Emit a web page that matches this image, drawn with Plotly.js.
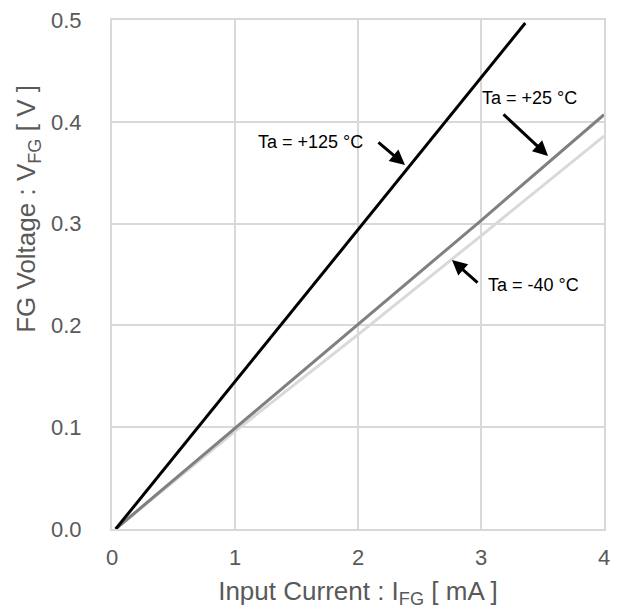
<!DOCTYPE html>
<html>
<head>
<meta charset="utf-8">
<script src="https://cdn.plot.ly/plotly-3.0.1.min.js"></script>
<style>html,body{margin:0;padding:0;background:#fff;}#chart{width:624px;height:609px;}</style>
</head>
<body>
<div id="chart"></div>
<script>
// Input current I_FG [mA]
const xT125 = [0.03, 1, 2, 3, 3.36];
const yT125 = [0.0, 0.145, 0.294, 0.443, 0.497];
const xT25 = [0.03, 1, 2, 3, 4];
const yT25 = [0.0, 0.099, 0.201, 0.303, 0.407];
const xTm40 = [0.03, 1, 2, 3, 4];
const yTm40 = [0.0, 0.096, 0.191, 0.288, 0.386];

const seriesNames = ['Ta = +125 °C', 'Ta = +25 °C', 'Ta = -40 °C'];
const seriesColors = ['#000000', '#808080', '#d9d9d9'];

// label positions [x, y] and arrow [tailX, tailY, headX, headY]
const labelPos = [[1.614, 0.380], [3.394, 0.4234], [3.423, 0.2397]];
const arrowPts = [[2.154, 0.381, 2.382, 0.3576], [3.171, 0.4086, 3.545, 0.3664], [2.984, 0.2407, 2.764, 0.2642]];

const xTicks = [0, 1, 2, 3, 4];
const yTicks = [0, 0.1, 0.2, 0.3, 0.4, 0.5];

const xTitle = 'Input Current : I<sub>FG</sub> [ mA ]';
const yTitle = 'FG Voltage : V<sub>FG</sub> [ V ]';

const traces = [
  {x: xTm40, y: yTm40, name: seriesNames[2], mode: 'lines', line: {color: seriesColors[2], width: 3}},
  {x: xT25, y: yT25, name: seriesNames[1], mode: 'lines', line: {color: seriesColors[1], width: 3}},
  {x: xT125, y: yT125, name: seriesNames[0], mode: 'lines', line: {color: seriesColors[0], width: 3}}
];

const gridColor = '#d9d9d9';
const tickFont = {family: 'Liberation Sans, Arial, sans-serif', size: 22, color: '#595959'};
const titleFont = {family: 'Liberation Sans, Arial, sans-serif', size: 26, color: '#595959'};

const annotations = [];
for (let i = 0; i < 3; i++) {
  annotations.push({
    x: labelPos[i][0], y: labelPos[i][1], xref: 'x', yref: 'y',
    text: seriesNames[i], showarrow: false,
    font: {family: 'Liberation Sans, Arial, sans-serif', size: 18, color: '#000'}
  });
  annotations.push({
    x: arrowPts[i][2], y: arrowPts[i][3], ax: arrowPts[i][0], ay: arrowPts[i][1],
    xref: 'x', yref: 'y', axref: 'x', ayref: 'y',
    text: '', showarrow: true, arrowhead: 2, arrowsize: 1, arrowwidth: 3, arrowcolor: '#000'
  });
}
// y-axis title (placed as in the reference, above the axis middle)
annotations.push({
  x: -0.1707, y: 0.629, xref: 'paper', yref: 'paper',
  xanchor: 'center', yanchor: 'middle', textangle: -90,
  text: yTitle, showarrow: false, font: titleFont
});

const layout = {
  width: 624, height: 609,
  margin: {l: 112, r: 20, t: 20, b: 80},
  paper_bgcolor: '#fff', plot_bgcolor: '#fff',
  showlegend: false,
  xaxis: {
    range: [0, 4], tickvals: xTicks, ticktext: xTicks.map(String),
    showgrid: true, gridcolor: gridColor, gridwidth: 2,
    zeroline: false, showline: true, mirror: true, linecolor: gridColor, linewidth: 2,
    ticks: '', tickfont: tickFont, ticklabelstandoff: 8,
    title: {text: xTitle, font: titleFont, standoff: 13}
  },
  yaxis: {
    range: [0, 0.5], tickvals: yTicks, ticktext: yTicks.map(v => v.toFixed(1)),
    showgrid: true, gridcolor: gridColor, gridwidth: 2,
    zeroline: false, showline: true, mirror: true, linecolor: gridColor, linewidth: 2,
    ticks: '', tickfont: tickFont, ticklabelstandoff: 24
  },
  annotations: annotations
};

Plotly.newPlot('chart', traces, layout, {displayModeBar: false, staticPlot: true});
</script>
</body>
</html>
